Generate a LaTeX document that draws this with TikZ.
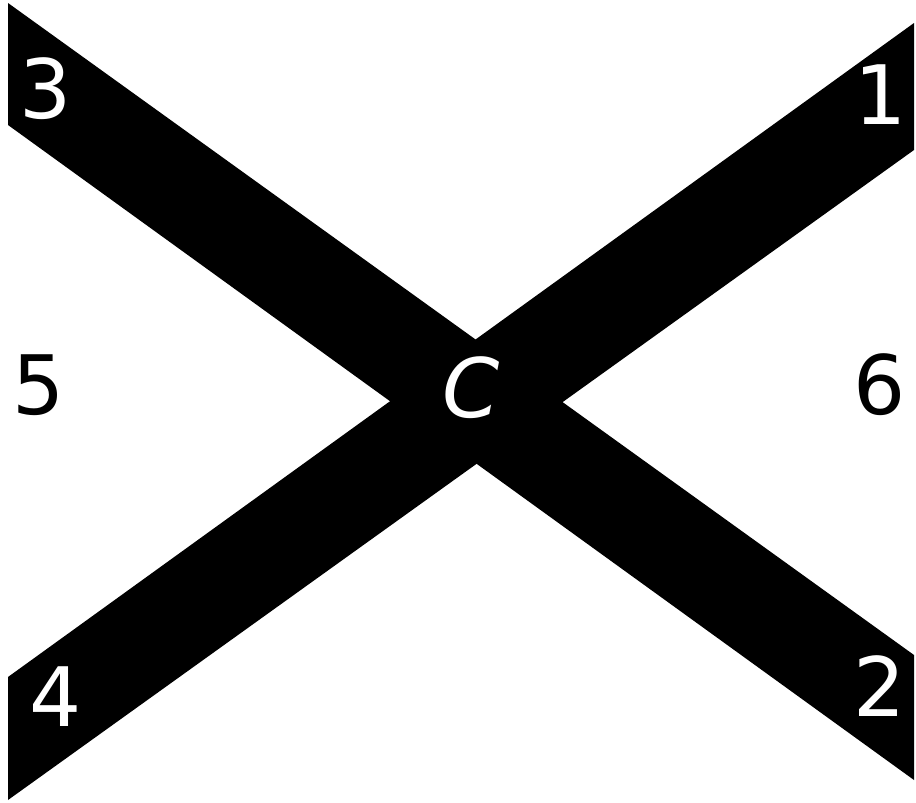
\documentclass[tikz,border=0pt]{standalone}
\usepackage{fontspec}
\setmainfont{DejaVu Sans}
\usepackage{tikz}

\begin{document}
\begin{tikzpicture}[x=0.5pt, y=-0.5pt,
			band/.style={fill=black, draw=none},
			lbl/.style={font=\fontsize{41}{41}\selectfont, inner sep=0pt},
			onband/.style={lbl, text=white}
			]
			\useasboundingbox (0,0) rectangle (916,803);
			% the two crossing bands
			\fill[band] (8,3) -- (914,655) -- (914,780) -- (8,125) -- cycle;
			\fill[band] (8,677) -- (914,23) -- (914,150) -- (8,800) -- cycle;
			
			\node[onband] (n3) at (46,89) {3};
			\node[onband] (n1) at (881,95) {1};
			\node[onband] (n4) at (56,697) {4};
			\node[onband] (n2) at (880,686) {2};
			\node[lbl] (n5) at (39,385) {5};
			\node[lbl] (n6) at (880,385) {6};
			\node[onband, font=\fontsize{41}{41}\selectfont\itshape] (c) at (471,388) {C};
		\end{tikzpicture}
\end{document}
